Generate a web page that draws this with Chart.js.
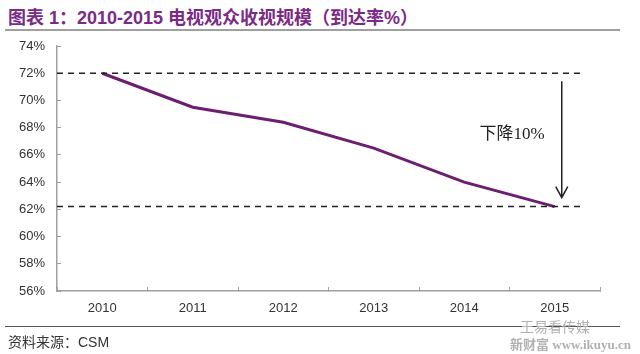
<!DOCTYPE html>
<html>
<head>
<meta charset="utf-8">
<script src="https://cdn.jsdelivr.net/npm/chart.js@4.4.1/dist/chart.umd.min.js"></script>
<style>
  body { margin: 0; background: #fff; width: 640px; height: 354px; position: relative; overflow: hidden; }
  #chart { position: absolute; left: 0; top: 0; }
  .title { position: absolute; left: 8px; top: 3px; font: bold 18px "Liberation Sans", "Noto Sans CJK SC", sans-serif; color: #7b2a85; white-space: nowrap; }
  .rule-top { position: absolute; left: 5px; top: 29px; width: 615px; height: 2px; background: #a0a0a0; }
  .rule-bottom { position: absolute; left: 5px; top: 326px; width: 615px; height: 1px; background: #555; }
  .source { position: absolute; left: 8px; top: 331px; font: 14px "Liberation Sans", "Noto Sans CJK SC", sans-serif; color: #333; }
  .wm1 { position: absolute; left: 520px; top: 316px; font: 14px "Noto Sans CJK SC", sans-serif; color: #b0b0b0; }
  .wm2 { position: absolute; left: 510px; top: 334px; font: bold 13px "Liberation Serif", "Noto Sans CJK SC", serif; color: #b0b0b0; }
</style>
</head>
<body>
<div class="title">图表 1：2010-2015 电视观众收视规模（到达率%）</div>
<div class="rule-top"></div>
<canvas id="chart" width="640" height="354"></canvas>
<div class="rule-bottom"></div>
<div class="source">资料来源：CSM</div>
<div class="wm1">王易看传媒</div>
<div class="wm2">新财富 www.ikuyu.cn</div>
<script>
// 电视观众到达率 (%)
let years = ["2010", "2011", "2012", "2013", "2014", "2015"]
let reach = [72.0, 69.5, 68.4, 66.5, 64.0, 62.2]
let yTicks = [56, 58, 60, 62, 64, 66, 68, 70, 72, 74]
let dropLabel = "下降10%"

// dashed reference lines + arrow between first and last value
let dropNote = {
    id: "dropNote",
    afterDraw(chart) {
        let ctx = chart.ctx
        let x = chart.scales.x
        let y = chart.scales.y
        let yTop = y.getPixelForValue(reach[0])
        let yBot = y.getPixelForValue(reach[reach.length - 1])
        let xEnd = x.getPixelForValue(years.length - 1)
        let left = chart.chartArea.left
        ctx.save()
        ctx.strokeStyle = "#222"
        ctx.lineWidth = 1.5
        ctx.setLineDash([6, 5])
        ctx.beginPath()
        ctx.moveTo(left, yTop); ctx.lineTo(xEnd + 30, yTop)
        ctx.moveTo(left, yBot); ctx.lineTo(xEnd + 30, yBot)
        ctx.stroke()
        ctx.setLineDash([])
        let ax = xEnd + 7
        ctx.beginPath()
        ctx.moveTo(ax, yTop + 8); ctx.lineTo(ax, yBot - 9)
        ctx.moveTo(ax - 6, yBot - 20); ctx.lineTo(ax, yBot - 9); ctx.lineTo(ax + 6, yBot - 20)
        ctx.stroke()
        ctx.fillStyle = "#222"
        ctx.font = '17px "Liberation Serif", "Noto Sans CJK SC", serif'
        ctx.textAlign = "right"
        ctx.textBaseline = "middle"
        ctx.fillText(dropLabel, ax - 17, (yTop + yBot) / 2 - 5)
        ctx.restore()
    }
}

new Chart(document.getElementById("chart"), {
    type: "line",
    data: {
        labels: years,
        datasets: [{
            label: "到达率",
            data: reach,
            borderColor: "#6c1f70",
            borderWidth: 3,
            pointRadius: 0,
            tension: 0
        }]
    },
    options: {
        responsive: false,
        animation: false,
        layout: { padding: { top: 46, left: 0, right: 40, bottom: 0 } },
        plugins: { legend: { display: false }, tooltip: { enabled: false } },
        scales: {
            x: {
                offset: true,
                grid: { offset: true, drawOnChartArea: false, tickLength: -4, color: "#a0a0a0" },
                border: { color: "#a0a0a0", width: 1.5 },
                ticks: { padding: 14, color: "#333", font: { family: "Liberation Sans", size: 13 } },
                afterFit(scale) { scale.height = 63 }
            },
            y: {
                min: yTicks[0],
                max: yTicks[yTicks.length - 1],
                afterBuildTicks(scale) { scale.ticks = yTicks.map(v => ({ value: v })) },
                grid: { drawOnChartArea: false, tickLength: -4, color: "#a0a0a0" },
                border: { color: "#a0a0a0", width: 1.5 },
                ticks: { padding: 16, color: "#333", font: { family: "Liberation Sans", size: 13 }, callback: v => v + "%" },
                afterFit(scale) { scale.width = 57 }
            }
        }
    },
    plugins: [dropNote]
})
</script>
</body>
</html>
